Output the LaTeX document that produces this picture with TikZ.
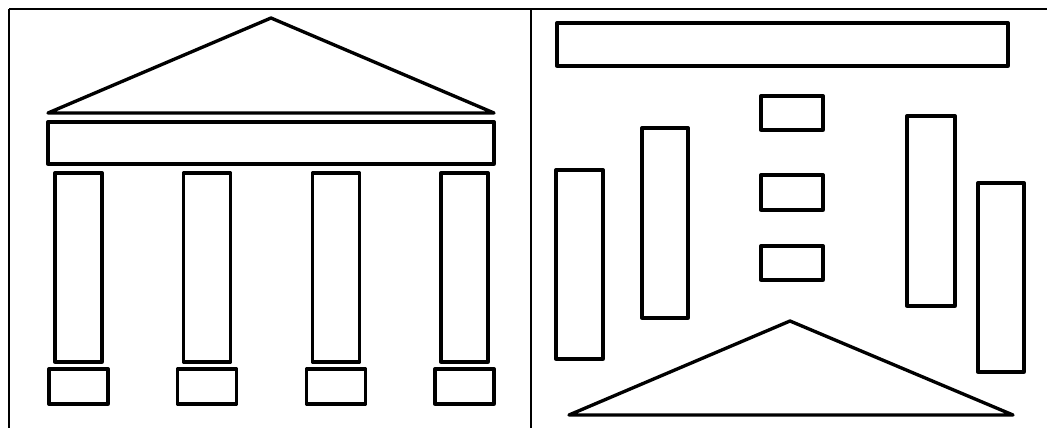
\documentclass[tikz,border=0pt]{standalone}
\usetikzlibrary{positioning}

\begin{document}
\begin{tikzpicture}[
        x=0.02cm, y=-0.02cm,
        part/.style={draw, line width=1.9pt, line join=round},
        frame_line/.style={draw, line width=1.1pt}
    ]
        \useasboundingbox (0,0) rectangle (1047,428);

        % Frame (top, left and divider)
        \draw[frame_line] (9,9) -- (1047,9);
        \draw[frame_line] (9,9) -- (9,428);
        \draw[frame_line] (531,9) -- (531,428);

        % Left panel: assembled temple
        \draw[part] (48,113) -- (271,18) -- (494,113) -- cycle;
        \draw[part] (48,122) rectangle (494,164);
        \foreach \cx in {78.5, 207, 336, 464.5} {
            \draw[part] (\cx-23.5,173) rectangle (\cx+23.5,362);
            \draw[part] (\cx-29.5,369) rectangle (\cx+29.5,404);
        }

        % Right panel: scattered parts
        \draw[part] (557,23) rectangle (1008,66);
        \draw[part] (761,96) rectangle (823,130);
        \draw[part] (761,175) rectangle (823,210);
        \draw[part] (761,246) rectangle (823,280);
        \draw[part] (556,170) rectangle (603,359);
        \draw[part] (642,128) rectangle (688,318);
        \draw[part] (907,116) rectangle (955,306);
        \draw[part] (978,183) rectangle (1024,372);
        \draw[part] (569,415) -- (790,321) -- (1013,415) -- cycle;

    \end{tikzpicture}
\end{document}
